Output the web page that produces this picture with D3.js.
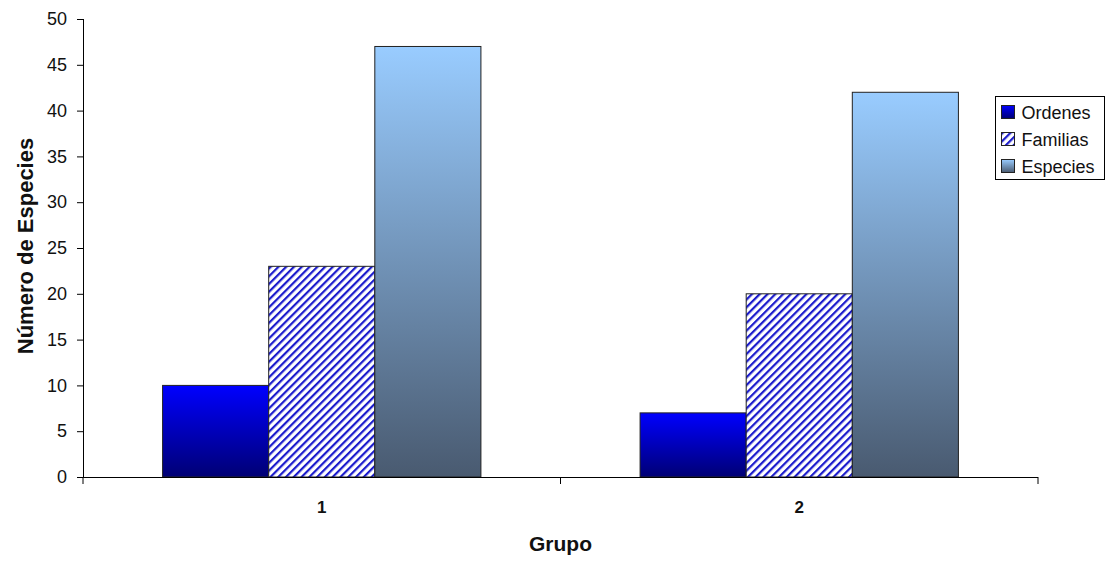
<!DOCTYPE html>
<html>
<head>
<meta charset="utf-8">
<script src="https://cdn.jsdelivr.net/npm/d3@7"></script>
<style>
  html, body { margin: 0; padding: 0; background: #fff; }
  svg { display: block; font-family: "Liberation Sans", Arial, sans-serif; }
</style>
</head>
<body>
<svg id="chart" width="1115" height="563"></svg>
<script>
// Species richness per group
const groups = ["1", "2"];
const seriesNames = ["Ordenes", "Familias", "Especies"];
const ordenes = [10, 7];
const familias = [23, 20];
const especies = [47, 42];
const yTicks = [0, 5, 10, 15, 20, 25, 30, 35, 40, 45, 50];

const seriesValues = [ordenes, familias, especies];
const rows = groups.map((g, i) => ({
  group: g,
  values: seriesNames.map((s, j) => ({ key: s, value: seriesValues[j][i] }))
}));

const svg = d3.select("#chart");
const margin = { left: 83, right: 77, top: 19, bottom: 86 };
const width = 1115, height = 563;

const x0 = d3.scaleBand().domain(groups)
  .range([margin.left, width - margin.right])
  .paddingInner(1 / 3).paddingOuter(1 / 6);
const x1 = d3.scaleBand().domain(seriesNames).range([0, x0.bandwidth()]);
const y = d3.scaleLinear().domain([0, 50]).range([height - margin.bottom, margin.top]);

// Fills: gradients and diagonal hatch
const defs = svg.append("defs");
const gOrd = defs.append("linearGradient").attr("id", "gradOrd")
  .attr("x1", 0).attr("y1", 0).attr("x2", 0).attr("y2", 1);
gOrd.append("stop").attr("offset", "0%").attr("stop-color", "#0000ff");
gOrd.append("stop").attr("offset", "100%").attr("stop-color", "#000074");

const gEsp = defs.append("linearGradient").attr("id", "gradEsp")
  .attr("x1", 0).attr("y1", 0).attr("x2", 0).attr("y2", 1);
gEsp.append("stop").attr("offset", "0%").attr("stop-color", "#99ccff");
gEsp.append("stop").attr("offset", "100%").attr("stop-color", "#495a70");

const hatch = defs.append("pattern").attr("id", "hatch")
  .attr("patternUnits", "userSpaceOnUse")
  .attr("width", 5.5).attr("height", 5.5)
  .attr("patternTransform", "rotate(45)");
hatch.append("rect").attr("width", 5.5).attr("height", 5.5).attr("fill", "#ffffff");
hatch.append("rect").attr("width", 2.2).attr("height", 5.5).attr("fill", "#1a1acc");

const fills = { Ordenes: "url(#gradOrd)", Familias: "url(#hatch)", Especies: "url(#gradEsp)" };

// Bars
const gGroups = svg.append("g").selectAll("g").data(rows).join("g")
  .attr("transform", d => `translate(${x0(d.group)},0)`);
gGroups.selectAll("rect").data(d => d.values).join("rect")
  .attr("x", d => x1(d.key))
  .attr("y", d => y(d.value))
  .attr("width", x1.bandwidth())
  .attr("height", d => y(0) - y(d.value))
  .attr("fill", d => fills[d.key])
  .attr("stroke", "#222")
  .attr("stroke-width", 1);

// Y axis
const yAxis = svg.append("g")
  .attr("transform", `translate(${margin.left},0)`)
  .call(d3.axisLeft(y).tickValues(yTicks).tickSize(6).tickPadding(10));
yAxis.selectAll("text").attr("font-size", 18).attr("fill", "#111")
  .attr("font-family", "Liberation Sans, Arial, sans-serif");
yAxis.selectAll("line,path").attr("stroke", "#000");
yAxis.select(".domain").attr("d", `M0.5,${y(50)}V${y(0)}`);

// X axis: baseline, category boundary ticks, labels
const xAxisG = svg.append("g").attr("transform", `translate(0,${y(0)})`);
xAxisG.append("line")
  .attr("x1", margin.left).attr("x2", width - margin.right)
  .attr("y1", 0.5).attr("y2", 0.5).attr("stroke", "#000");
const bounds = [x0.range()[0]].concat(groups.map(g => x0(g) + x0.bandwidth() + x0.step() * x0.paddingInner() / 2));
bounds.forEach(bx => {
  xAxisG.append("line").attr("x1", bx).attr("x2", bx)
    .attr("y1", 0).attr("y2", 7).attr("stroke", "#000");
});
xAxisG.selectAll("text.cat").data(groups).join("text")
  .attr("class", "cat")
  .attr("x", d => x0(d) + x0.bandwidth() / 2)
  .attr("y", 36)
  .attr("text-anchor", "middle")
  .attr("font-size", 17).attr("font-weight", "bold").attr("fill", "#111")
  .text(d => d);

// Axis titles
svg.append("text")
  .attr("x", (margin.left + width - margin.right) / 2)
  .attr("y", 551)
  .attr("text-anchor", "middle")
  .attr("font-size", 21).attr("font-weight", "bold").attr("fill", "#111")
  .text("Grupo");
svg.append("text")
  .attr("transform", `translate(33,${(y(0) + y(50)) / 2 - 2}) rotate(-90)`)
  .attr("text-anchor", "middle")
  .attr("font-size", 22).attr("font-weight", "bold").attr("fill", "#111")
  .text("Número de Especies");

// Legend
const legend = svg.append("g").attr("transform", "translate(995.5,96.5)");
legend.append("rect").attr("width", 109).attr("height", 83)
  .attr("fill", "#fff").attr("stroke", "#000");
const items = legend.selectAll("g.item").data(seriesNames).join("g")
  .attr("class", "item")
  .attr("transform", (d, i) => `translate(6,${9 + i * 27})`);
items.append("rect").attr("width", 13).attr("height", 13)
  .attr("fill", d => fills[d]).attr("stroke", "#222");
items.append("text").attr("x", 20).attr("y", 13)
  .attr("font-size", 18).attr("fill", "#111")
  .text(d => d);
</script>
</body>
</html>
